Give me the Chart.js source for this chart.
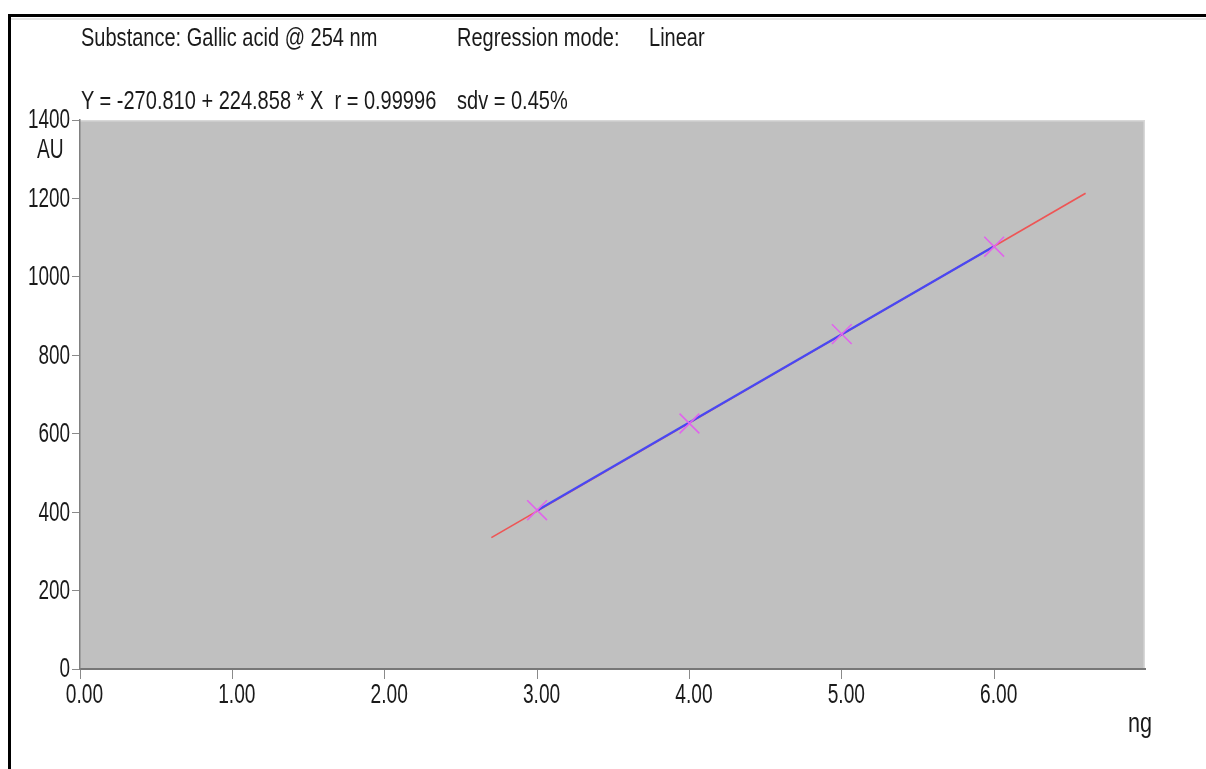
<!DOCTYPE html>
<html>
<head>
<meta charset="utf-8">
<script src="https://cdn.jsdelivr.net/npm/chart.js@4"></script>
<style>
  html, body { margin: 0; padding: 0; background: #ffffff; }
  #wrap { position: relative; width: 1206px; height: 769px; overflow: hidden; }
  #frame { position: absolute; left: 8px; top: 14px; width: 1210px; height: 770px;
           border-top: 3px solid #000; border-left: 3px solid #000; box-sizing: border-box; }
  #frame2 { position: absolute; left: 11px; top: 18px; width: 1200px; height: 2px; background: #e4e4e4; }
  canvas { position: absolute; left: 0; top: 0; }
  .t { position: absolute; font-family: 'Liberation Sans', Arial, sans-serif;
       font-size: 26px; color: #1a1a1a; white-space: nowrap; line-height: 1;
       transform: scaleX(0.77); transform-origin: 0 0; }
  .u { position: absolute; font-family: 'Liberation Sans', Arial, sans-serif;
       font-size: 27px; color: #1a1a1a; white-space: nowrap; line-height: 1;
       transform-origin: 0 0; }
</style>
</head>
<body>
<div id="wrap">
  <div id="frame"></div>
  <div id="frame2"></div>
  <canvas id="c" width="1206" height="769"></canvas>
  <div class="t" style="left:81px; top:24px;">Substance: Gallic acid @ 254 nm</div>
  <div class="t" style="left:457px; top:24px;">Regression mode:</div>
  <div class="t" style="left:649px; top:24px;">Linear</div>
  <div class="t" style="left:81px; top:87px;">Y = -270.810 + 224.858 * X&nbsp;&nbsp;r = 0.99996</div>
  <div class="t" style="left:457px; top:87px;">sdv = 0.45%</div>
  <div class="u" style="left:37px; top:136px; transform: scaleX(0.71);">AU</div>
  <div class="u" style="left:1128px; top:710px; transform: scaleX(0.8);">ng</div>
</div>
<script>
// Calibration standards (amount in ng, response in AU)
const amounts = [3.00, 4.00, 5.00, 6.00];
const responses = [405, 626, 854, 1077];
// Regression line: full extent (red) and calibrated range (blue)
const fitExtX = [2.70, 6.60];
const fitExtY = [335, 1213];
const fitRangeX = [3.00, 6.00];
const fitRangeY = [404, 1078];
// Axis settings
const xMin = 0, xMax = 6.99, xStep = 1;
const yMin = 0, yMax = 1400, yStep = 200;

const FONT = "'Liberation Sans', Arial, sans-serif";

const toPts = (xs, ys) => xs.map((x, i) => ({ x: x, y: ys[i] }));

const plotBg = {
  id: 'plotBg',
  beforeDraw(chart) {
    const { ctx, chartArea: a } = chart;
    ctx.save();
    ctx.fillStyle = '#c0c0c0';
    ctx.fillRect(a.left, a.top, a.right - a.left, a.bottom - a.top);
    ctx.strokeStyle = '#d8d8d8';
    ctx.lineWidth = 1.5;
    ctx.beginPath();
    ctx.moveTo(a.left, a.top + 0.75);
    ctx.lineTo(a.right - 0.75, a.top + 0.75);
    ctx.lineTo(a.right - 0.75, a.bottom);
    ctx.stroke();
    ctx.restore();
  }
};

// Narrow tick labels, positioned from the library's scales
const narrowTicks = {
  id: 'narrowTicks',
  afterDraw(chart) {
    const ctx = chart.ctx;
    const xs = chart.scales.x, ys = chart.scales.y;
    ctx.save();
    ctx.fillStyle = '#1a1a1a';
    ctx.font = '27px ' + FONT;
    ctx.textBaseline = 'middle';
    xs.ticks.forEach(t => {
      const px = xs.getPixelForValue(t.value);
      ctx.save();
      ctx.translate(px + 4.5, xs.top + 27);
      ctx.scale(0.71, 1);
      ctx.textAlign = 'center';
      ctx.fillText(Number(t.value).toFixed(2), 0, 0);
      ctx.restore();
    });
    ys.ticks.forEach(t => {
      const py = ys.getPixelForValue(t.value);
      ctx.save();
      ctx.translate(ys.right - 10, py + 1);
      ctx.scale(0.70, 1);
      ctx.textAlign = 'right';
      ctx.fillText(String(t.value), 0, 0);
      ctx.restore();
    });
    ctx.restore();
  }
};

new Chart(document.getElementById('c'), {
  type: 'scatter',
  data: {
    datasets: [
      {
        label: 'Standards',
        data: toPts(amounts, responses),
        showLine: false,
        pointStyle: 'crossRot',
        pointRadius: 14,
        pointHoverRadius: 14,
        borderColor: '#e064ec',
        backgroundColor: '#e064ec',
        borderWidth: 1.6,
        order: 0
      },
      {
        label: 'Calibrated range',
        data: toPts(fitRangeX, fitRangeY),
        showLine: true,
        borderColor: '#4848f4',
        borderWidth: 2.2,
        pointRadius: 0,
        order: 1
      },
      {
        label: 'Regression',
        data: toPts(fitExtX, fitExtY),
        showLine: true,
        borderColor: '#ee5555',
        borderWidth: 1.7,
        pointRadius: 0,
        order: 2
      }
    ]
  },
  options: {
    responsive: false,
    animation: false,
    layout: { padding: { top: 120, right: 61, left: 0, bottom: 0 } },
    plugins: { legend: { display: false }, tooltip: { enabled: false } },
    scales: {
      x: {
        type: 'linear',
        min: xMin, max: xMax,
        afterFit(s) { s.height = 100; },
        ticks: { display: false, stepSize: xStep, includeBounds: false, autoSkip: false },
        grid: { drawOnChartArea: false, tickLength: 10, color: '#8a8a8a' },
        border: { color: '#777777', width: 2 }
      },
      y: {
        type: 'linear',
        min: yMin, max: yMax,
        afterFit(s) { s.width = 80; },
        ticks: { display: false, stepSize: yStep },
        grid: { drawOnChartArea: false, tickLength: 8, color: '#8a8a8a' },
        border: { color: '#808080', width: 1.5 }
      }
    }
  },
  plugins: [plotBg, narrowTicks]
});
</script>
</body>
</html>
